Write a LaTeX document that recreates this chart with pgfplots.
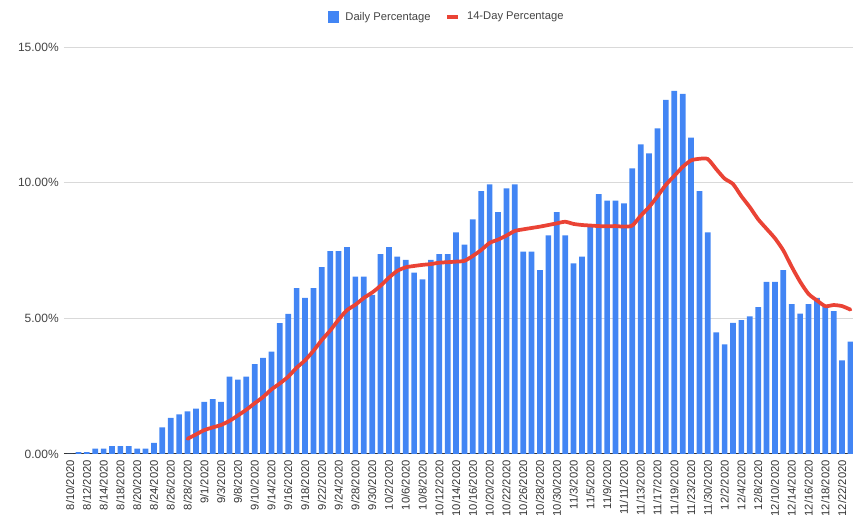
\documentclass[border=0pt]{standalone}
\usepackage{fontspec}
\setmainfont{Liberation Sans}
\usepackage{pgfplots}
\usepackage{pgfplotstable}
\pgfplotsset{compat=1.18}
\definecolor{barblue}{HTML}{4285F4}
\definecolor{linered}{HTML}{EA4335}
\definecolor{gridgray}{HTML}{D9D9D9}
\definecolor{txt}{HTML}{444444}
\definecolor{xtxt}{HTML}{333333}

\pgfplotstableread{
i v
0 0
1 0.07
2 0.07
3 0.2
4 0.2
5 0.29
6 0.29
7 0.29
8 0.2
9 0.2
10 0.41
11 0.98
12 1.33
13 1.46
14 1.57
15 1.67
16 1.92
17 2.02
18 1.92
19 2.85
20 2.74
21 2.85
22 3.31
23 3.54
24 3.77
25 4.82
26 5.16
27 6.11
28 5.75
29 6.11
30 6.89
31 7.48
32 7.48
33 7.62
34 6.54
35 6.54
36 5.86
37 7.37
38 7.62
39 7.27
40 7.15
41 6.68
42 6.44
43 7.15
44 7.37
45 7.37
46 8.17
47 7.72
48 8.65
49 9.69
50 9.94
51 8.91
52 9.79
53 9.94
54 7.46
55 7.46
56 6.78
57 8.06
58 8.91
59 8.06
60 7.03
61 7.27
62 8.38
63 9.58
64 9.34
65 9.34
66 9.24
67 10.53
68 11.41
69 11.08
70 12.0
71 13.05
72 13.38
73 13.27
74 11.66
75 9.69
76 8.17
77 4.48
78 4.04
79 4.83
80 4.93
81 5.07
82 5.41
83 6.34
84 6.34
85 6.78
86 5.52
87 5.17
88 5.52
89 5.75
90 5.41
91 5.27
92 3.45
93 4.14
}\dailydata

\pgfplotstableread{
i v
14 0.56
15 0.72
16 0.88
17 0.98
18 1.07
19 1.22
20 1.42
21 1.63
22 1.87
23 2.10
24 2.38
25 2.60
26 2.85
27 3.18
28 3.45
29 3.80
30 4.20
31 4.55
32 4.95
33 5.30
34 5.50
35 5.75
36 5.95
37 6.20
38 6.50
39 6.75
40 6.88
41 6.93
42 6.97
43 7.00
44 7.05
45 7.07
46 7.09
47 7.12
48 7.30
49 7.52
50 7.78
51 7.90
52 8.05
53 8.22
54 8.28
55 8.33
56 8.38
57 8.44
58 8.50
59 8.56
60 8.48
61 8.44
62 8.42
63 8.40
64 8.39
65 8.40
66 8.38
67 8.42
68 8.78
69 9.10
70 9.50
71 9.92
72 10.25
73 10.58
74 10.82
75 10.88
76 10.87
77 10.50
78 10.15
79 9.95
80 9.50
81 9.10
82 8.65
83 8.30
84 7.95
85 7.50
86 6.90
87 6.35
88 5.90
89 5.66
90 5.45
91 5.49
92 5.45
93 5.32
}\fourteendata

\begin{document}
\begin{tikzpicture}
\begin{axis}[
  name=ax,
  scale only axis,
  width=591.75pt, height=305.25pt,
  xmin=-0.72, xmax=93.3,
  ymin=0, ymax=15,
  axis line style={draw=none},
  major tick length=0pt,
  /pgf/number format/assume math mode=true,
  ytick={0,5,10,15},
  yticklabel={\pgfmathprintnumber[fixed,fixed zerofill,precision=2]{\tick}\%},
  yticklabel style={font=\fontsize{9pt}{10pt}\selectfont, text=txt, inner sep=0pt, inner xsep=3.75pt, anchor=east},
  ymajorgrids,
  grid style={draw=gridgray, line width=0.75pt},
  extra y ticks={0},
  extra y tick labels={},
  extra y tick style={grid style={draw=xtxt, line width=0.75pt}},
  xtick={0,2,...,92},
  xticklabels={8/10/2020,8/12/2020,8/14/2020,8/18/2020,8/20/2020,8/24/2020,8/26/2020,8/28/2020,9/1/2020,9/3/2020,9/8/2020,9/10/2020,9/14/2020,9/16/2020,9/18/2020,9/22/2020,9/24/2020,9/28/2020,9/30/2020,10/2/2020,10/6/2020,10/8/2020,10/12/2020,10/14/2020,10/16/2020,10/20/2020,10/22/2020,10/26/2020,10/28/2020,10/30/2020,11/3/2020,11/5/2020,11/9/2020,11/11/2020,11/13/2020,11/17/2020,11/19/2020,11/23/2020,11/30/2020,12/2/2020,12/4/2020,12/8/2020,12/10/2020,12/14/2020,12/16/2020,12/18/2020,12/22/2020},
  xticklabel style={font=\fontsize{8.4pt}{9pt}\selectfont, text=xtxt, rotate=90, anchor=east, inner sep=0pt, inner xsep=4.5pt},
  legend columns=2,
  legend style={at={(0.4854,1.0737)}, anchor=center, draw=none, fill=none,
    font=\fontsize{8.4pt}{10pt}\selectfont, text=txt,
    /tikz/every odd column/.append style={column sep=3pt},
    /tikz/every even column/.append style={column sep=9pt}},
]
\addplot[ybar, bar width=0.68, fill=barblue, draw=none,
  legend image code/.code={\fill[barblue] (0pt,-4.5pt) rectangle (8.25pt,4.5pt);}]
  table[x=i, y=v] {\dailydata};
\addlegendentry{Daily Percentage}
\addplot[linered, line width=2.8pt, smooth, tension=0.4, line join=round, line cap=round,
  legend image code/.code={\draw[linered, line width=3pt, line cap=butt] (0pt,0pt) -- (8.25pt,0pt);}]
  table[x=i, y=v] {\fourteendata};
\addlegendentry{14-Day Percentage}
\end{axis}
\pgfresetboundingbox
\path[use as bounding box] ([xshift=-48pt,yshift=-45.75pt]ax.south west) rectangle ([yshift=35.25pt]ax.north east);
\end{tikzpicture}
\end{document}
